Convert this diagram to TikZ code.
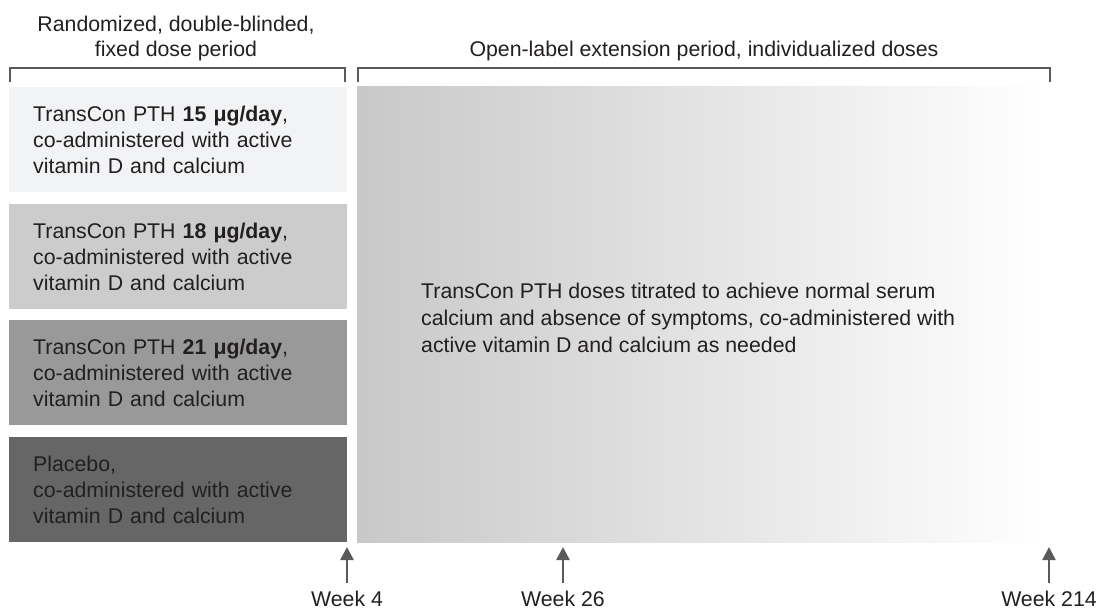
\documentclass[tikz,border=0pt]{standalone}
\usepackage{fontspec}
\setmainfont{Liberation Sans}
\usetikzlibrary{arrows.meta}
\definecolor{txt}{HTML}{231F20}
\definecolor{brk}{HTML}{5A5A5A}
\definecolor{boxA}{HTML}{F2F3F5}
\definecolor{boxB}{HTML}{CCCCCC}
\definecolor{boxC}{HTML}{999999}
\definecolor{boxD}{HTML}{666666}
\definecolor{gradL}{HTML}{C8C8C8}
\tikzset{
  every node/.style={font=\fontsize{21.3}{26}\selectfont, text=txt},
  armbox/.style={rectangle, inner xsep=24pt, inner ysep=0pt, text width=290pt, minimum height=105pt, align=left, anchor=north west},
  bracketline/.style={draw=brk, line width=2.5pt},
  weekarrow/.style={draw=brk, line width=2.5pt, -{Triangle[width=13pt,length=13pt]}},
  weeklabel/.style={anchor=base, inner sep=0pt},
}
\begin{document}
\begin{tikzpicture}[x=1pt,y=-1pt]
\useasboundingbox (0,0) rectangle (1097,609);
% headers
\node[anchor=base, align=center, inner sep=0pt, font=\fontsize{21.3}{25}\selectfont] (hdrL) at (176,57) {Randomized, double-blinded,\\fixed dose period};
\node[anchor=base, inner sep=0pt] (hdrR) at (704,57) {Open-label extension period, individualized doses};
% brackets
\draw[bracketline] (10,82) -- (10,68) -- (345,68) -- (345,82);
\draw[bracketline] (358,82) -- (358,68) -- (1050,68) -- (1050,82);
% left arms
\node[armbox, fill=boxA] (arm1) at (9,87) {TransCon PTH \textbf{15 μg/day},\\co-administered with active\\vitamin D and calcium};
\node[armbox, fill=boxB] (arm2) at (9,204) {TransCon PTH \textbf{18 μg/day},\\co-administered with active\\vitamin D and calcium};
\node[armbox, fill=boxC] (arm3) at (9,320) {TransCon PTH \textbf{21 μg/day},\\co-administered with active\\vitamin D and calcium};
\node[armbox, fill=boxD] (arm4) at (9,437) {Placebo,\\co-administered with active\\vitamin D and calcium};
% extension period
\shade[left color=gradL, right color=white] (357,87) rectangle (1045,542);
\node[anchor=west, align=left, inner sep=0pt, font=\fontsize{21.3}{27}\selectfont] (ext) at (421,318) {TransCon PTH doses titrated to achieve normal serum\\calcium and absence of symptoms, co-administered with\\active vitamin D and calcium as needed};
% week markers
\node[weeklabel] (w4) at (347,606) {Week 4};
\node[weeklabel] (w26) at (563,606) {Week 26};
\node[weeklabel] (w214) at (1049,606) {Week 214};
\coordinate (w4t) at (347,547);
\coordinate (w26t) at (563,547);
\coordinate (w214t) at (1049,547);
\draw[weekarrow] ([yshift=7pt]w4.north) -- (w4t);
\draw[weekarrow] ([yshift=7pt]w26.north) -- (w26t);
\draw[weekarrow] ([yshift=7pt]w214.north) -- (w214t);
\end{tikzpicture}
\end{document}
